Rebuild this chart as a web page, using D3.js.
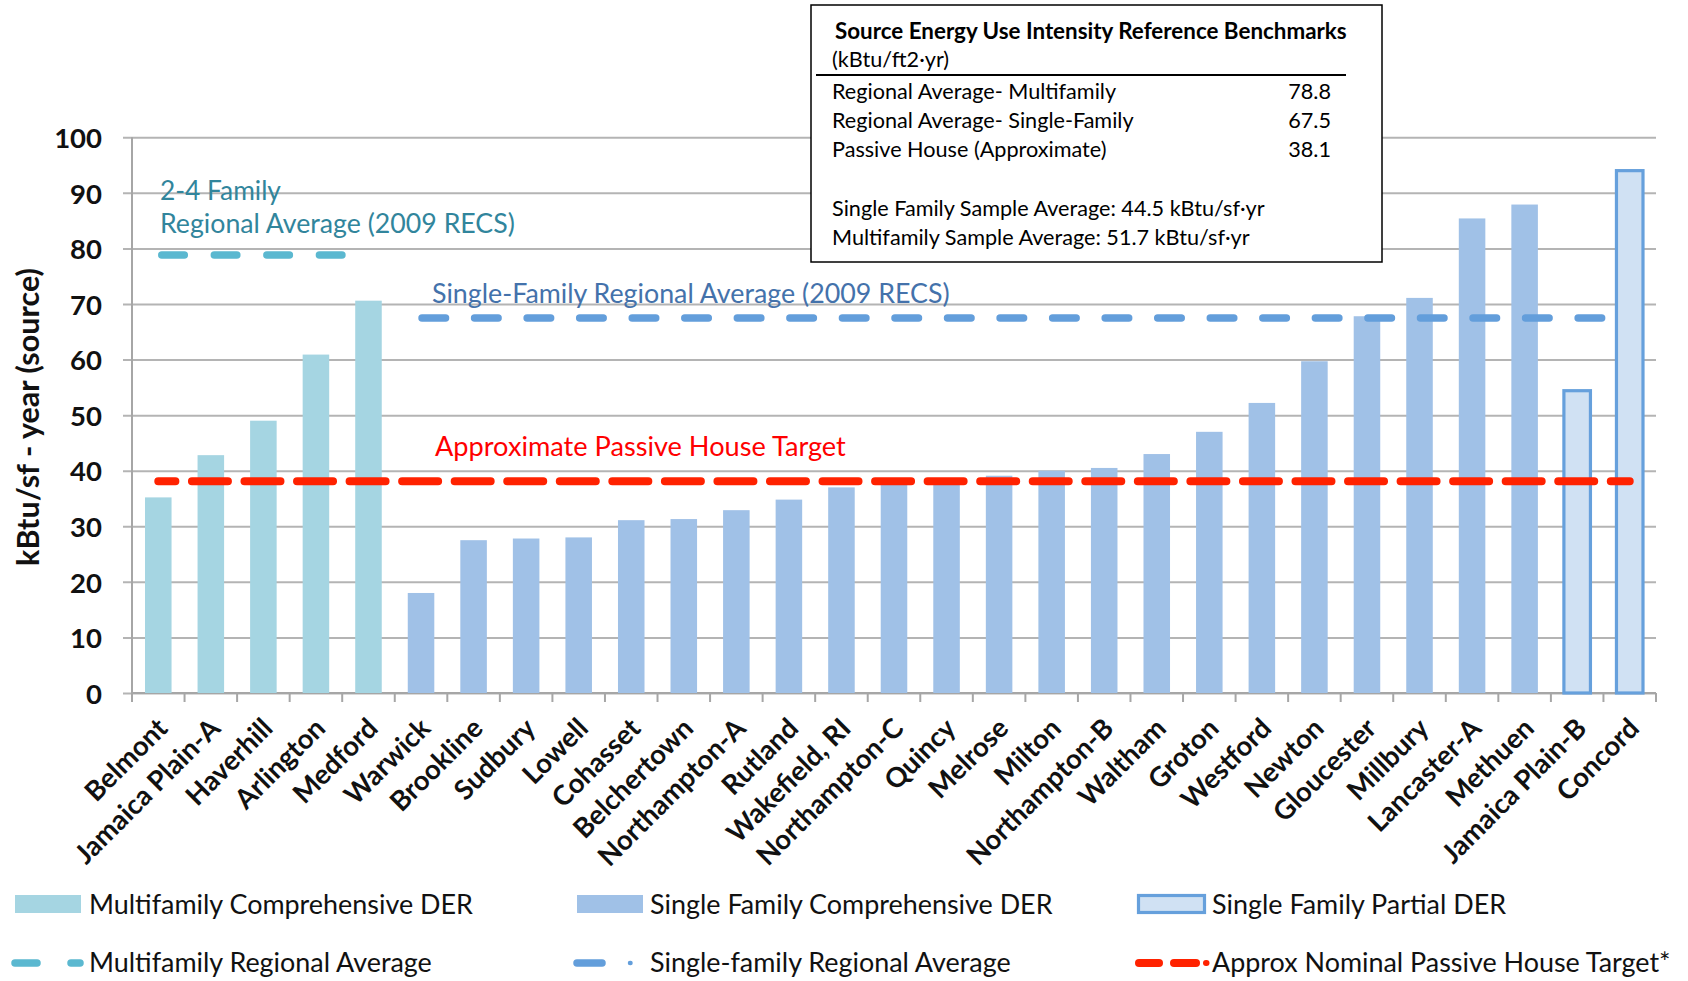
<!DOCTYPE html>
<html><head><meta charset="utf-8">
<script src="https://cdn.jsdelivr.net/npm/d3@7"></script>
<style>
body{margin:0;background:#fff}
svg{display:block}
text{font-family:Lato,'Open Sans','DejaVu Sans',sans-serif}
</style>
</head><body>
<svg id="chart" width="1688" height="981"></svg>
<script>
// ---------------- data ----------------
const categories = ["Belmont","Jamaica Plain-A","Haverhill","Arlington","Medford","Warwick","Brookline","Sudbury","Lowell","Cohasset","Belchertown","Northampton-A","Rutland","Wakefield, RI","Northampton-C","Quincy","Melrose","Milton","Northampton-B","Waltham","Groton","Westford","Newton","Gloucester","Millbury","Lancaster-A","Methuen","Jamaica Plain-B","Concord"];
const euiValues = [35.2,42.8,49.0,60.9,70.6,18.0,27.5,27.8,28.0,31.1,31.3,32.9,34.8,37.0,38.0,38.2,39.1,40.0,40.5,43.0,47.0,52.2,59.7,67.8,71.1,85.4,87.9,54.4,94.0];
const derTypes = ["mf","mf","mf","mf","mf","sf","sf","sf","sf","sf","sf","sf","sf","sf","sf","sf","sf","sf","sf","sf","sf","sf","sf","sf","sf","sf","sf","sfp","sfp"];
const yTickValues = [0,10,20,30,40,50,60,70,80,90,100];
const multifamilyAvg = 78.8;
const singleFamilyAvg = 67.5;
const passiveTarget = 38.1;
const mfLineCats = categories.slice(0,5);
const sfLineCats = categories.slice(5);
const phLineCats = categories;
const benchmarkTitle = "Source Energy Use Intensity Reference Benchmarks";
const benchmarkUnit = "(kBtu/ft2·yr)";
const benchmarkLabels = ["Regional Average- Multifamily","Regional Average- Single-Family","Passive House (Approximate)"];
const benchmarkValues = ["78.8","67.5","38.1"];
const sampleNotes = ["Single Family Sample Average: 44.5 kBtu/sf·yr","Multifamily Sample Average: 51.7 kBtu/sf·yr"];
const legendLabels = ["Multifamily Comprehensive DER","Single Family Comprehensive DER","Single Family Partial DER","Multifamily Regional Average","Single-family Regional Average","Approx Nominal Passive House Target*"];
const yAxisTitle = "kBtu/sf - year (source)";

// ---------------- styles ----------------
const C = {
  mf:"#a5d5e2", sf:"#a0c1e7", sfp:"#d0e1f3", sfpStroke:"#66a0dc",
  mfLine:"#5bb8d0", sfLine:"#639edb", red:"#ff2200",
  grid:"#b4b4b4", axis:"#a6a6a6"
};

const svg = d3.select("#chart");
const X0 = 132, X1 = 1656, Y0 = 693, Y100 = 137.3;

const x = d3.scaleBand().domain(categories).range([X0, X1]).paddingInner(0.495).paddingOuter(0.2475);
const y = d3.scaleLinear().domain([0,100]).range([Y0, Y100]);
const bw = x.bandwidth();
const cx = c => x(c) + bw/2;

function fit(sel, target){
  const node = sel.node();
  const w = node.getComputedTextLength();
  const fs = parseFloat(sel.attr("font-size"));
  return fs * target / w;
}

// gridlines + y tick labels
const yAxis = d3.axisLeft(y).tickValues(yTickValues).tickSize(-(X1 - 123)).tickPadding(21).tickFormat(d3.format("d"));
const gy = svg.append("g").attr("transform","translate(123,0)").call(yAxis);
gy.select(".domain").remove();
gy.selectAll(".tick line").attr("stroke", C.grid).attr("stroke-width", 2);
gy.selectAll(".tick text").attr("font-size", 27.5).attr("font-weight","bold").attr("fill","#111")
  .attr("font-family","Lato,'Open Sans',sans-serif").attr("dy","0.37em");

// y axis line
svg.append("line").attr("x1",X0).attr("x2",X0).attr("y1",y(0)).attr("y2",y(100)).attr("stroke",C.axis).attr("stroke-width",2);
// x axis line + boundary ticks
svg.append("line").attr("x1",X0).attr("x2",X1).attr("y1",y(0)).attr("y2",y(0)).attr("stroke",C.axis).attr("stroke-width",2);
svg.append("g").selectAll("line").data(d3.range(categories.length+1)).join("line")
  .attr("x1", i => X0 + i*x.step()).attr("x2", i => X0 + i*x.step())
  .attr("y1", y(0)).attr("y2", y(0)+9).attr("stroke",C.axis).attr("stroke-width",2);

// bars
svg.append("g").selectAll("rect").data(categories).join("rect")
  .attr("x", c => x(c)).attr("width", bw)
  .attr("y", (c,i) => y(euiValues[i])).attr("height", (c,i) => y(0) - y(euiValues[i]))
  .attr("fill", (c,i) => C[derTypes[i]])
  .attr("stroke", (c,i) => derTypes[i]==="sfp" ? C.sfpStroke : "none")
  .attr("stroke-width", 3.2);

// reference lines
const line = v => d3.line().x(cx).y(() => y(v));
svg.append("path").datum(mfLineCats).attr("d", line(multifamilyAvg)).attr("fill","none")
  .attr("stroke",C.mfLine).attr("stroke-width",7.5).attr("stroke-linecap","round")
  .attr("stroke-dasharray","22.5 30.05").attr("stroke-dashoffset",-3.5);
svg.append("path").datum(sfLineCats).attr("d", line(singleFamilyAvg)).attr("fill","none")
  .attr("stroke",C.sfLine).attr("stroke-width",7.5).attr("stroke-linecap","round")
  .attr("stroke-dasharray","23.5 29.05").attr("stroke-dashoffset",-1);
svg.append("path").datum(phLineCats).attr("d", line(passiveTarget)).attr("fill","none")
  .attr("stroke",C.red).attr("stroke-width",8).attr("stroke-linecap","round")
  .attr("stroke-dasharray","36 16.55").attr("stroke-dashoffset",18.9);

// x labels
const xl = svg.append("g").selectAll("text").data(categories).join("text")
  .attr("transform", c => `translate(${cx(c)+11},${y(0)+37}) rotate(-45)`)
  .attr("text-anchor","end").attr("font-weight","bold").attr("font-size",25).attr("fill","#111")
  .text(c => c);
const xfs = fit(xl.filter(c => c==="Northampton-C"), 194);
xl.attr("font-size", xfs);

// y axis title
const yt = svg.append("text").attr("transform","translate(39,417) rotate(-90)")
  .attr("text-anchor","middle").attr("font-weight","bold").attr("font-size",25).attr("fill","#111").text(yAxisTitle);
yt.attr("font-size", fit(yt, 298));

// annotations
function note(txt, xx, yy, color, w){
  const t = svg.append("text").attr("x",xx).attr("y",yy).attr("fill",color).attr("font-size",25).text(txt);
  t.attr("font-size", fit(t, w));
  return t;
}
note("2-4 Family", 160, 200, "#31859c", 121);
note("Regional Average (2009 RECS)", 160, 233, "#31859c", 355);
note("Single-Family Regional Average (2009 RECS)", 432, 303, "#4472ab", 518);
note("Approximate Passive House Target", 435, 456, "#ff0000", 411);

// benchmark box
const box = svg.append("g");
box.append("rect").attr("x",811).attr("y",5).attr("width",571).attr("height",257)
  .attr("fill","#fff").attr("stroke","#000").attr("stroke-width",1.5);
const bt = box.append("text").attr("x",835).attr("y",39).attr("font-weight","bold").attr("font-size",21).attr("fill","#000").text(benchmarkTitle);
bt.attr("font-size", fit(bt, 512));
const probe = box.append("text").attr("x",832).attr("y",243).attr("font-size",19).attr("fill","#000").text(sampleNotes[0]);
const bfs = fit(probe, 433);
probe.remove();
box.append("text").attr("x",832).attr("y",67).attr("font-size",bfs).attr("fill","#000").text(benchmarkUnit);
box.append("line").attr("x1",816).attr("x2",1346).attr("y1",75).attr("y2",75).attr("stroke","#000").attr("stroke-width",2);
box.selectAll("text.bl").data(benchmarkLabels).join("text").attr("class","bl")
  .attr("x",832).attr("y",(d,i)=>99+i*29).attr("font-size",bfs).attr("fill","#000").text(d=>d);
box.selectAll("text.bv").data(benchmarkValues).join("text").attr("class","bv")
  .attr("x",1331).attr("y",(d,i)=>99+i*29).attr("text-anchor","end").attr("font-size",bfs).attr("fill","#000").text(d=>d);
box.selectAll("text.sn").data(sampleNotes).join("text").attr("class","sn")
  .attr("x",832).attr("y",(d,i)=>216+i*29).attr("font-size",bfs).attr("fill","#000").text(d=>d);

// legend
const lg = svg.append("g");
const lgText = lg.selectAll("text").data(legendLabels).join("text")
  .attr("x",(d,i)=>[89,650,1212][i%3]).attr("y",(d,i)=> i<3 ? 914 : 972)
  .attr("font-size",26).attr("fill","#111").text(d=>d);
const lfs = fit(lgText.filter((d,i)=>i===0), 384);
lgText.attr("font-size", lfs);
lg.append("rect").attr("x",15).attr("y",895).attr("width",66).attr("height",18).attr("fill",C.mf);
lg.append("rect").attr("x",577).attr("y",895).attr("width",66).attr("height",18).attr("fill",C.sf);
lg.append("rect").attr("x",1138.5).attr("y",895.5).attr("width",66).attr("height",17).attr("fill",C.sfp).attr("stroke",C.sfpStroke).attr("stroke-width",3.2);
const ly = 963;
function seg(x1,x2,color,w){ lg.append("line").attr("x1",x1).attr("x2",x2).attr("y1",ly).attr("y2",ly).attr("stroke",color).attr("stroke-width",w).attr("stroke-linecap","round"); }
seg(15,37,C.mfLine,7.5); seg(71,80,C.mfLine,7.5);
seg(577,602,C.sfLine,7.5); seg(630,630.5,C.sfLine,4.5);
seg(1139,1159,C.red,8); seg(1174,1196,C.red,8); seg(1206,1206.5,C.red,6);
</script>
</body></html>
